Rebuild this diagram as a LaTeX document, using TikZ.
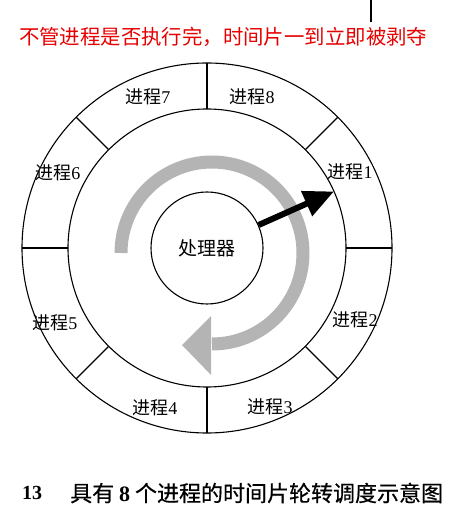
\documentclass[tikz,border=0pt]{standalone}
\usepackage{fontspec}
\setmainfont{Liberation Serif}
\newfontfamily\cjk{Noto Sans CJK SC}
\newfontfamily\cjkcap[FakeBold=0.6]{Noto Sans CJK SC}
\usetikzlibrary{arrows.meta}
\definecolor{bandgray}{RGB}{180,180,180}
\definecolor{notered}{RGB}{230,0,0}
\tikzset{
  ring/.style={draw=black,line width=1.1pt},
  divline/.style={draw=black,line width=1.1pt},
  plabel/.style={font=\fontsize{18}{18}\selectfont,inner sep=0pt},
}
\begin{document}
\begin{tikzpicture}[x=1pt,y=1pt]
\useasboundingbox (-207,248) rectangle (262,-265);
% rings
\draw[ring] (0,0) circle[radius=185];
\draw[ring] (0,0) circle[radius=139];
\foreach \a in {0,45,...,315}{
  \draw[divline] (\a:139) -- (\a:185);
}
\node[ring,circle,minimum size=112pt,inner sep=0pt,fill=white,font=\fontsize{19}{19}\selectfont] (proc) at (0,0) {\cjk 处理器};
% labels
\node[plabel] (p7) at (-59,151) {{\cjk 进程}7};
\node[plabel] (p8) at (45,151) {{\cjk 进程}8};
\node[plabel] (p1) at (143,76) {{\cjk 进程}1};
\node[plabel] (p2) at (148,-72) {{\cjk 进程}2};
\node[plabel] (p3) at (63,-159) {{\cjk 进程}3};
\node[plabel] (p4) at (-52,-160) {{\cjk 进程}4};
\node[plabel] (p5) at (-152,-75) {{\cjk 进程}5};
\node[plabel] (p6) at (-149,75) {{\cjk 进程}6};
% gray rotation arrow
\draw[bandgray,line width=13pt] (-86,-5) arc[start angle=180,end angle=-90,radius=91];
\fill[bandgray] (4,-68) -- (-25,-97) -- (4,-127) -- cycle;
% black pointer
\coordinate (hit) at (24:139);
\draw[line width=6pt,-{Triangle[length=30pt,width=26pt]}] (proc.24) -- (hit);
% top note
\coordinate (ltop) at (164,248);
\coordinate (lbot) at (164,226);
\draw[line width=1.5pt] (ltop) -- (lbot);
\node[anchor=west,inner sep=0pt,text=notered,font=\cjk\fontsize{20.4}{20.4}\selectfont] (note) at (-188,211) {不管进程是否执行完，时间片一到立即被剥夺};
% caption
\node[anchor=west,inner sep=0pt,font=\bfseries\fontsize{20}{20}\selectfont] (capnum) at (-185,-245) {13};
\node[anchor=west,inner sep=0pt,font=\cjkcap\fontsize{22}{22}\selectfont] (cap) at (-137,-245) {具有 {\rmfamily\bfseries 8} 个进程的时间片轮转调度示意图};
\end{tikzpicture}
\end{document}
